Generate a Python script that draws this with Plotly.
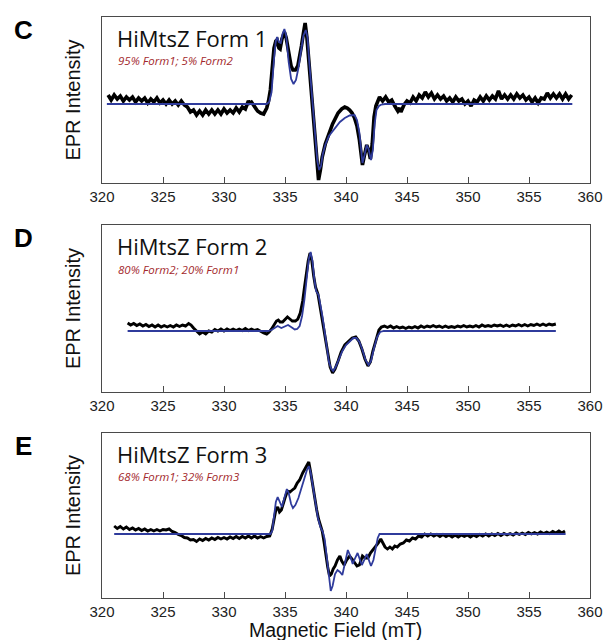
import plotly.graph_objects as go

# ---------------- Panel C : HiMtsZ Form 1 ----------------
c_exp_x = [320.5,320.75,321.0,321.25,321.5,321.75,322.0,322.25,322.5,322.75,323.0,323.25,323.5,323.75,
           324.0,324.25,324.5,324.75,325.0,325.25,325.5,325.75,326.0,326.25,326.5,326.75,327.0,327.25,
           327.5,327.75,328.0,328.25,328.5,328.75,329.0,329.25,329.5,329.75,330.0,330.25,330.5,330.75,
           331.0,331.25,331.5,331.75,332.0,332.1,332.25,332.5,332.75,333.0,333.25,333.5,
           333.65,333.8,333.95,334.1,334.25,334.35,334.5,334.6,334.75,334.95,335.1,335.35,335.5,335.65,
           335.85,336.05,336.2,336.35,336.5,336.65,336.8,336.95,337.1,337.25,337.4,337.5,337.65,337.75,
           337.9,338.05,338.3,338.55,338.9,339.35,339.65,339.9,340.1,340.3,340.5,340.7,340.9,341.1,
           341.25,341.35,341.5,341.7,341.85,342.0,342.15,342.3,342.45,342.6,
           342.75,343.0,343.25,343.5,343.75,344.0,344.25,344.4,344.5,344.75,345.0,345.25,345.5,345.75,
           346.0,346.25,346.5,346.75,347.0,347.25,347.5,347.75,348.0,348.25,348.5,348.75,349.0,349.25,
           349.5,349.75,350.0,350.25,350.5,350.75,351.0,351.25,351.5,351.75,352.0,352.25,352.5,352.75,
           353.0,353.25,353.5,353.75,354.0,354.25,354.5,354.75,355.0,355.25,355.5,355.75,356.0,356.25,
           356.5,356.75,357.0,357.25,357.5,357.75,358.0,358.25,358.5]
c_exp_y = [9,4,9,5,8,3,7,4,7,2,6,3,6,1,
           5,2,6,1,4,0,4,0,3,-1,3,-1,-3,-8,
           -6,-11,-7,-11,-6,-10,-6,-10,-6,-10,-5,-9,-6,-9,
           -4,-8,-3,-5,3,1,2,-3,-7,-9,-10,-4,
           3,14,38,56,63,64,56,55,65,72,66,47,38,34,
           34,38,47,58,70,81,66,44,24,4,-22,-39,-62,-76,
           -66,-53,-40,-32,-20,-9,-5,-3,-4,-6,-9,-14,-22,-36,
           -52,-61,-52,-41,-46,-55,-40,-13,-2,4,
           7,3,7,2,4,-2,-7,-4,-8,-1,3,1,7,3,
           9,6,12,7,11,5,9,5,8,3,6,2,7,3,
           5,0,3,-2,4,2,7,3,8,4,8,5,13,5,
           9,5,9,5,10,6,9,4,7,2,6,1,6,5,
           11,6,10,6,10,5,10,5,9]
c_sim_x = [320.4,333.5,333.7,333.9,334.1,334.25,334.35,334.5,334.65,334.8,334.95,335.1,335.3,335.5,
           335.7,335.9,336.1,336.3,336.5,336.7,336.85,337.0,337.25,337.5,337.65,337.8,337.95,338.1,
           338.3,338.6,339.1,339.5,339.9,340.3,340.7,340.9,341.1,341.25,341.35,341.5,341.7,341.85,
           342.05,342.2,342.35,342.5,342.7,342.9,343.2,358.55]
c_sim_y = [0,0,2,12,45,63,67,62,61,70,75,68,42,25,
           20,24,36,52,68,74,66,40,2,-38,-57,-66,-62,-50,
           -41,-32,-24,-18,-14,-11.5,-11,-16,-29,-48,-59,-52,-41,-45,
           -56,-46,-20,-6,-2,-0.5,0,0]

# ---------------- Panel D : HiMtsZ Form 2 ----------------
d_exp_x = [322.1,322.35,322.6,322.85,323.1,323.35,323.6,323.85,324.1,324.35,324.6,324.85,325.1,325.35,
           325.6,325.85,326.1,326.35,326.6,326.85,327.1,327.3,327.5,327.75,328.0,328.25,328.5,328.75,
           329.0,329.25,329.5,329.75,330.0,330.25,330.5,330.75,331.0,331.25,331.5,331.75,332.0,332.25,
           332.5,332.75,333.0,333.25,333.5,333.7,
           333.9,334.1,334.3,334.45,334.6,334.8,335.0,335.2,335.4,335.6,335.85,336.05,336.25,336.45,
           336.6,336.75,336.9,337.05,337.2,337.35,337.5,337.7,337.85,338.0,338.15,338.3,338.5,338.7,
           338.9,339.1,339.35,339.6,339.9,340.2,340.5,340.8,341.05,341.3,341.55,341.8,342.0,342.2,
           342.45,342.7,342.9,
           343.15,343.4,343.65,343.9,344.15,344.4,344.65,344.9,345.15,345.4,345.65,345.9,346.15,346.4,
           346.65,346.9,347.15,347.4,347.65,347.9,348.15,348.4,348.65,348.9,349.15,349.4,349.65,349.9,
           350.15,350.4,350.65,350.9,351.15,351.4,351.65,351.9,352.15,352.4,352.65,352.9,353.15,353.4,
           353.65,353.9,354.15,354.4,354.65,354.9,355.15,355.4,355.65,355.9,356.15,356.4,356.65,356.9,
           357.2]
d_exp_y = [8,6,7.5,5.5,7,5,6.5,4.5,6,4,6,4,5.5,4,
           5.5,4,6,4.5,6,5,7.5,6,3,0,-3,-1,-3,0,
           -1,1.5,0,2,0,2,0.5,2,0.5,2,0.5,2.5,0.5,2,
           0.5,1.5,-0.5,-2,-3,-1,
           2,6,10,11,9,9,12,14,12,10,10,12,18,30,
           44,58,70,78,70,55,44,37,26,16,4,-9,-24,-36,
           -42,-38,-30,-21,-14,-10,-7,-6,-10,-18,-28,-35,-31,-20,
           -8,1,4,
           5,3.5,5,3,4.5,3,4,2.5,4,3,4.5,3,5,3.5,
           5,4,5.5,4,5,3.5,5,3.5,4.5,3.5,5,4,5.5,4,
           5,4,5.5,4,6,4.5,5.5,4.5,6,5,6,4.5,6,4.5,
           6,5,6.5,5,6.5,5,6.5,5.5,7,5.5,7,5.5,7,6,
           7]
d_sim_x = [322.1,333.6,333.9,334.15,334.4,334.7,335.0,335.25,335.5,335.8,336.0,336.2,336.4,336.6,
           336.8,336.95,337.1,337.25,337.4,337.55,337.75,337.9,338.05,338.2,338.4,338.6,338.8,338.95,
           339.15,339.4,339.7,340.0,340.3,340.6,340.85,341.1,341.35,341.6,341.85,342.05,342.3,342.55,
           342.8,343.1,357.2]
d_sim_y = [0,0,1,3,5,3,5,6,4,1.5,2,5,15,32,
           55,72,79,70,52,40,36,27,16,4,-16,-31,-38,-40,
           -36,-28,-20,-14,-10,-7,-7,-11,-19,-29,-34,-30,-17,-6,
           -1,0,0]

# ---------------- Panel E : HiMtsZ Form 3 ----------------
e_exp_x = [321.0,321.25,321.5,321.75,322.0,322.25,322.5,322.75,323.0,323.25,323.5,323.75,324.0,324.25,
           324.5,324.75,325.0,325.25,325.5,325.75,326.0,326.25,326.5,326.75,327.0,327.25,327.5,327.75,
           328.0,328.25,328.5,328.75,329.0,329.25,329.5,329.75,330.0,330.25,330.5,330.75,331.0,331.25,
           331.5,331.75,332.0,332.25,332.5,332.75,333.0,333.25,333.5,333.75,
           333.95,334.1,334.25,334.4,334.55,334.7,334.85,335.0,335.2,335.4,335.6,335.8,336.0,336.2,
           336.45,336.65,336.85,336.95,337.1,337.25,337.4,337.6,337.75,337.9,338.05,338.2,338.35,338.5,
           338.65,338.8,338.95,339.1,339.3,339.5,339.65,339.85,340.05,340.3,340.5,340.7,340.9,341.1,
           341.35,341.55,341.8,342.0,342.2,342.45,342.65,342.85,343.0,343.2,343.4,343.6,343.8,344.0,
           344.2,344.45,344.7,
           344.95,345.2,345.45,345.7,345.95,346.2,346.45,346.7,346.95,347.2,347.45,347.7,347.95,348.2,
           348.45,348.7,348.95,349.2,349.45,349.7,349.95,350.2,350.45,350.7,350.95,351.2,351.45,351.7,
           351.95,352.2,352.45,352.7,352.95,353.2,353.45,353.7,353.95,354.2,354.45,354.7,354.95,355.2,
           355.45,355.7,355.95,356.2,356.45,356.7,356.95,357.2,357.45,357.7,357.95]
e_exp_y = [8,5.5,7.5,5,7,4.5,6,4,5.5,3.5,5,3,4.5,3,
           4.5,3,4.5,4,5,2.5,1.5,-0.5,-1.5,-3.5,-4,-6,-5.5,-7.5,
           -5,-6.5,-4.5,-6,-4,-5.5,-3.5,-5,-3.5,-5,-3,-4.5,-2.5,-4.5,
           -2.5,-4,-2,-4,-2,-4,-2.5,-4,-2.5,-2,
           5,14,24,27,22,24,29,36,43,42,44,46,51,54,
           61,66,71,72,62,50,38,24,15,9,3,-8,-22,-33,
           -42,-40,-35,-32,-26,-22,-27,-31,-26,-22,-25,-28,-32,-31,
           -22,-24,-24,-19,-16,-12,-9,-5,-9,-13,-15,-13,-15,-12,
           -13,-10,-9,
           -6,-7,-4,-5,-2,-3,0,-2,0,-2,-0.5,-2.5,-0.5,-2.5,
           -1,-3,-1,-3,-1,-2.5,-1,-3,-1,-2.5,-0.5,-2,0,-2,
           0,-1.5,0.5,-1.5,0.5,-1,0.5,-1,1,-0.5,1,-0.5,1.5,0,
           1.5,0,2,0.5,2,0.5,2.5,1,3,1,3]
e_sim_x = [321.0,333.8,333.95,334.1,334.25,334.4,334.55,334.75,334.95,335.15,335.3,335.5,335.65,335.85,
           336.1,336.35,336.6,336.8,336.95,337.1,337.3,337.5,337.7,337.9,338.1,338.25,338.4,338.6,
           338.75,338.9,339.1,339.3,339.5,339.7,339.95,340.15,340.35,340.55,340.75,340.95,341.15,341.3,
           341.5,341.7,341.9,342.05,342.25,342.45,342.6,342.75,358.0]
e_sim_y = [0,0,3,16,32,37,33,27,36,45,41,30,26,29,
           36,45,56,64,68,62,48,31,16,7,2,-5,-22,-45,
           -57,-52,-40,-36,-38,-41,-26,-16,-22,-30,-24,-19,-26,-31,
           -26,-20,-27,-32,-26,-14,-4,0,0]

panel_letters = ["C", "D", "E"]
panel_titles = ["HiMtsZ Form 1", "HiMtsZ Form 2", "HiMtsZ Form 3"]
panel_notes = ["95% Form1; 5% Form2", "80% Form2; 20% Form1", "68% Form1; 32% Form3"]
x_ticks = [320, 325, 330, 335, 340, 345, 350, 355, 360]
y_title = "EPR Intensity"
x_title = "Magnetic Field (mT)"

# ---------------- layout geometry (pixels) ----------------
W, H = 615, 640
ML, MR, MT, MB = 102, 15, 17, 42
PH = H - MT - MB
boxes = [(17, 183, [-79, 87]), (225, 392, [-61, 106]), (433, 598, [-64, 101])]
exp_widths = [3.6, 2.9, 2.9]

def py(p):
    return 1 - (p - MT) / PH

def px(p):
    return (p - ML) / (W - ML - MR)

BLUE = "#2f3b9c"
BOX = "#4a4a4a"

fig = go.Figure()
series = [(c_exp_x, c_exp_y, c_sim_x, c_sim_y),
          (d_exp_x, d_exp_y, d_sim_x, d_sim_y),
          (e_exp_x, e_exp_y, e_sim_x, e_sim_y)]

for i, (ex, ey, sx, sy) in enumerate(series):
    xa = "x" if i == 0 else f"x{i+1}"
    ya = "y" if i == 0 else f"y{i+1}"
    fig.add_trace(go.Scatter(x=ex, y=ey, mode="lines", xaxis=xa, yaxis=ya,
                             line=dict(color="black", width=exp_widths[i]), showlegend=False))
    fig.add_trace(go.Scatter(x=sx, y=sy, mode="lines", xaxis=xa, yaxis=ya,
                             line=dict(color=BLUE, width=1.8), showlegend=False))

layout = dict(width=W, height=H, margin=dict(l=ML, r=MR, t=MT, b=MB),
              paper_bgcolor="white", plot_bgcolor="white", showlegend=False)

annotations = []
for i, (top, bot, yr) in enumerate(boxes):
    suf = "" if i == 0 else str(i + 1)
    layout["xaxis" + suf] = dict(
        range=[320, 360], tickvals=x_ticks, ticktext=[str(t) for t in x_ticks],
        ticks="inside", ticklen=6, tickwidth=1, tickcolor=BOX,
        showline=True, linecolor=BOX, linewidth=1, mirror=True,
        showgrid=False, zeroline=False, anchor="y" + suf,
        tickfont=dict(family="Liberation Sans, Arial", size=15, color="#222"))
    layout["yaxis" + suf] = dict(
        range=yr, domain=[py(bot), py(top)], showticklabels=False, ticks="",
        showline=True, linecolor=BOX, linewidth=1, mirror=True,
        showgrid=False, zeroline=False, anchor="x" + suf)
    annotations.append(dict(text=panel_letters[i], xref="paper", yref="paper",
                            x=px(22), y=py(top + 13), xanchor="center", yanchor="middle",
                            showarrow=False,
                            font=dict(family="Liberation Sans, Arial", size=26, color="black",
                                      weight="bold")))
    annotations.append(dict(text=y_title, xref="paper", yref="paper", textangle=-90,
                            x=px(72), y=py((top + bot) / 2), xanchor="center", yanchor="middle",
                            showarrow=False,
                            font=dict(family="Liberation Sans, Arial", size=20, color="#111")))
    annotations.append(dict(text=panel_titles[i], xref="paper", yref="paper",
                            x=px(115), y=py(top + 21), xanchor="left", yanchor="middle",
                            showarrow=False,
                            font=dict(family="Open Sans", size=22, color="#111")))
    annotations.append(dict(text="<i>" + panel_notes[i] + "</i>", xref="paper", yref="paper",
                            x=px(116), y=py(top + 44), xanchor="left", yanchor="middle",
                            showarrow=False,
                            font=dict(family="Open Sans", size=11.5, color="#a3282c")))

annotations.append(dict(text=x_title, xref="paper", yref="paper",
                        x=px(340), y=py(630), xanchor="center", yanchor="middle",
                        showarrow=False,
                        font=dict(family="Liberation Sans, Arial", size=19.5, color="#111")))
layout["annotations"] = annotations
fig.update_layout(**layout)
fig.write_html("out.html", config={"displayModeBar": False},
               post_script="document.body.style.margin='0';document.body.style.overflow='hidden';")
